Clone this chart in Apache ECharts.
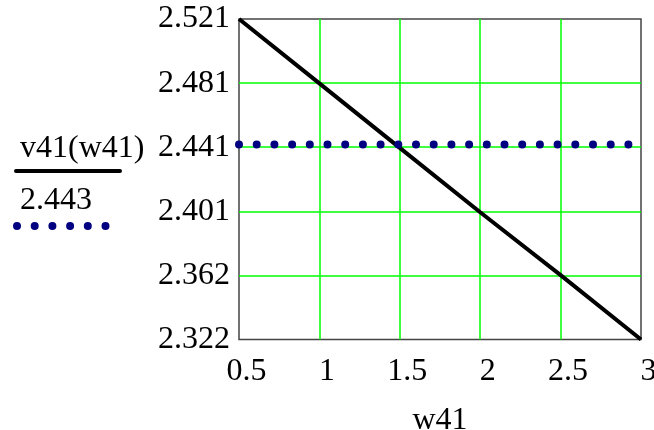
<!DOCTYPE html>
<html>
<head>
<meta charset="utf-8">
<script src="https://cdn.jsdelivr.net/npm/echarts@6/dist/echarts.min.js"></script>
<style>
html,body{margin:0;padding:0;background:#fff;}
#chart{width:654px;height:430px;}
</style>
</head>
<body>
<div id="chart"></div>
<script>
// ---- data ----
const w41 = [0.5, 1, 1.5, 2, 2.5, 3];
const v41 = [2.521, 2.481, 2.441, 2.401, 2.362, 2.322];
const constX = [0.5, 3];
const constY = [2.443, 2.443];
const yMin = 2.322, yMax = 2.521;
const yTickLabels = ['2.322', '2.362', '2.401', '2.441', '2.481', '2.521'];
const xTickLabels = ['0.5', '1', '1.5', '2', '2.5', '3'];
const seriesNames = ['v41(w41)', '2.443'];

const yTickValues = yTickLabels.map((_, i) => yMin + i * (yMax - yMin) / (yTickLabels.length - 1));
const font = 'Liberation Serif, Times New Roman, serif';
const fs = 32;

const chart = echarts.init(document.getElementById('chart'), null, {renderer: 'canvas'});
chart.setOption({
  animation: false,
  backgroundColor: '#fff',
  grid: {
    left: 239, top: 19, right: 13, bottom: 90.5,
    outerBoundsMode: 'none', containLabel: false,
    show: true, borderColor: '#444', borderWidth: 1.5, backgroundColor: 'transparent'
  },
  xAxis: {
    type: 'value', min: 0.5, max: 3, interval: 0.5,
    name: 'w41', nameLocation: 'middle', nameGap: 65,
    nameTextStyle: {fontFamily: font, fontSize: fs, color: '#000'},
    axisLine: {show: false}, axisTick: {show: false},
    axisLabel: {
      fontFamily: font, fontSize: fs, color: '#000', margin: 16,
      padding: [0, 0, 0, 15],
      showMinLabel: true, showMaxLabel: true, hideOverlap: false,
      formatter: (v) => { const i = xTickLabels.indexOf(String(v)); return i >= 0 ? xTickLabels[i] : String(v); }
    },
    splitLine: {show: true, showMinLine: false, showMaxLine: false, lineStyle: {color: '#00ff00', width: 1.5}}
  },
  yAxis: {
    type: 'value', min: yMin, max: yMax,
    axisLine: {show: false},
    axisTick: {show: false, customValues: yTickValues},
    axisLabel: {
      fontFamily: font, fontSize: fs, color: '#000', margin: 9,
      customValues: yTickValues, hideOverlap: false,
      formatter: (v) => {
        let best = 0;
        yTickValues.forEach((t, i) => { if (Math.abs(t - v) < Math.abs(yTickValues[best] - v)) best = i; });
        return yTickLabels[best];
      }
    },
    splitLine: {show: true, showMinLine: false, showMaxLine: false, lineStyle: {color: '#00ff00', width: 1.5}}
  },
  series: [
    {
      name: seriesNames[0], type: 'line', showSymbol: false, symbol: 'none',
      data: w41.map((x, i) => [x, v41[i]]),
      lineStyle: {color: '#000', width: 4},
      z: 3
    },
    {
      name: seriesNames[1], type: 'line', showSymbol: false, symbol: 'none',
      data: constX.map((x, i) => [x, constY[i]]),
      lineStyle: {color: '#000080', width: 8, type: [0, 17.7], cap: 'round'},
      z: 4
    }
  ],
  graphic: [
    {type: 'text', left: 20, top: 133, style: {text: seriesNames[0], font: fs + 'px ' + font, fill: '#000'}},
    {type: 'line', shape: {x1: 16, y1: 171, x2: 120, y2: 171}, style: {stroke: '#000', lineWidth: 4, lineCap: 'round'}},
    {type: 'text', left: 20, top: 185, style: {text: seriesNames[1], font: fs + 'px ' + font, fill: '#000'}},
    {type: 'line', shape: {x1: 17, y1: 226, x2: 110, y2: 226}, style: {stroke: '#000080', lineWidth: 8, lineDash: [0, 17.7], lineCap: 'round'}}
  ]
});
</script>
</body>
</html>
